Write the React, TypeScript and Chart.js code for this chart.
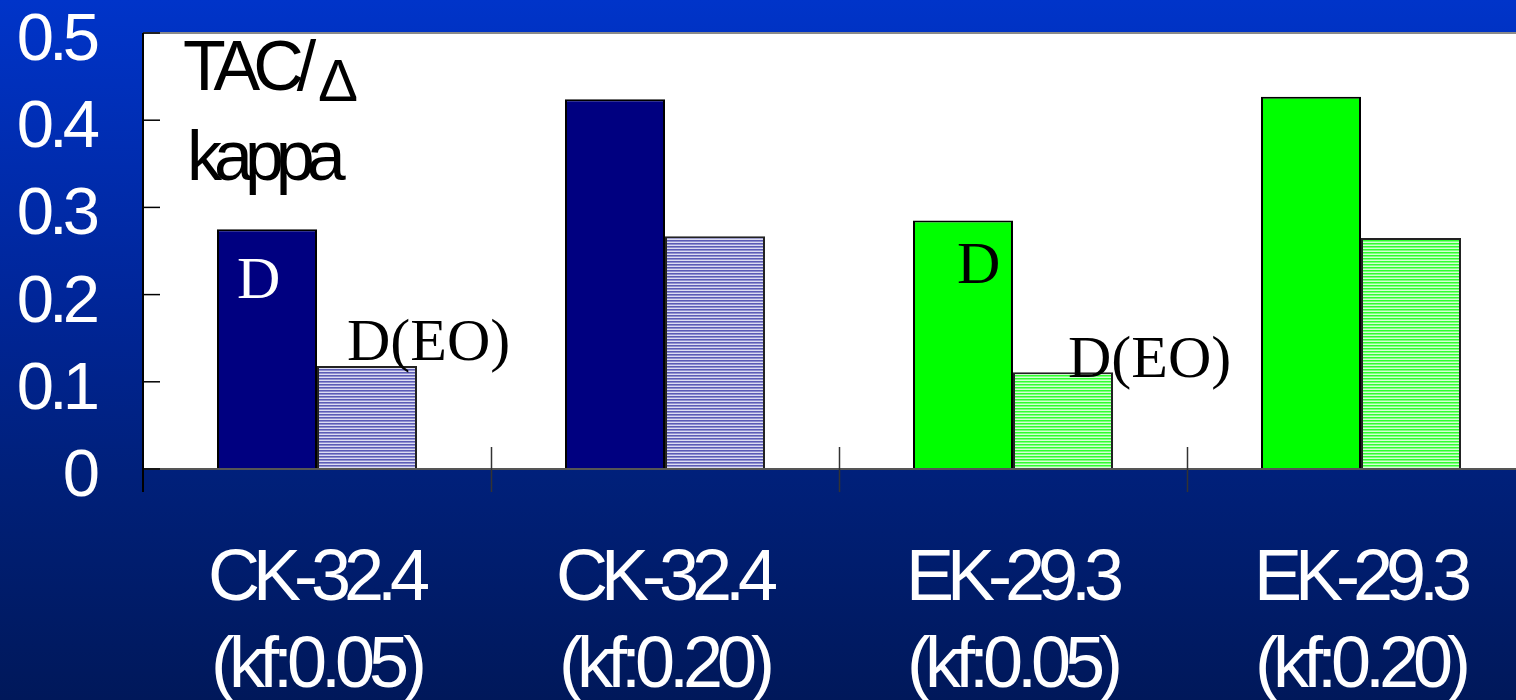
import React, { useEffect, useRef } from "react";
import { Chart, registerables } from "chart.js";
Chart.register(...registerables);

const categoryLine1 = ["CK-32.4", "CK-32.4", "EK-29.3", "EK-29.3"];
const categoryLine2 = ["(kf:0.05)", "(kf:0.20)", "(kf:0.05)", "(kf:0.20)"];
const seriesD = [0.275, 0.424, 0.285, 0.427];
const seriesDEO = [0.118, 0.267, 0.111, 0.265];
const yTickValues = [0, 0.1, 0.2, 0.3, 0.4, 0.5];
const yTickLabels = ["0", "0.1", "0.2", "0.3", "0.4", "0.5"];
const seriesNames = ["D", "D(EO)"];
// annotation labels: [text, category index, value (baseline), pixel x offset from category center (left edge), color]
const barNotes: [string, number, number, number, string][] = [
  ["D", 0, 0.196, -80, "#ffffff"],
  ["D(EO)", 0, 0.125, 30, "#000000"],
  ["D", 2, 0.213, -56, "#000000"],
  ["D(EO)", 2, 0.1055, 55, "#000000"],
];

function drawText(
  ctx: CanvasRenderingContext2D,
  s: string,
  x: number,
  y: number,
  font: string,
  color: string,
  spacing: number,
  align: "left" | "center" | "right"
) {
  ctx.save();
  ctx.font = font;
  ctx.fillStyle = color;
  (ctx as any).letterSpacing = spacing + "px";
  ctx.textAlign = "left";
  ctx.textBaseline = "alphabetic";
  const w = ctx.measureText(s).width - spacing;
  let sx = x;
  if (align === "center") sx = x - w / 2;
  else if (align === "right") sx = x - w;
  ctx.fillText(s, sx, y);
  ctx.restore();
}

export default function App() {
  const ref = useRef<HTMLCanvasElement>(null);
  useEffect(() => {
    const canvas = ref.current!;
    const mainCtx = canvas.getContext("2d")!;
    const mk = (rows: string[]) => {
      const c = document.createElement("canvas");
      c.width = 4;
      c.height = rows.length;
      const g = c.getContext("2d")!;
      rows.forEach((r, i) => {
        g.fillStyle = r;
        g.fillRect(0, i, 4, 1);
      });
      return mainCtx.createPattern(c, "repeat")!;
    };
    const navyPat = mk(["#5c5cb6", "#9090d0", "#dcdcf2"]);
    const greenPat = mk(["#30ff30", "#80ff80", "#d4ffd4"]);
    const navy = "#000080";
    const green = "#00ff00";

    const deco = {
      id: "deco",
      beforeDraw(chart: any) {
        const { ctx, chartArea: a } = chart;
        ctx.save();
        ctx.fillStyle = "#ffffff";
        ctx.fillRect(a.left, a.top, a.right - a.left, a.bottom - a.top);
        ctx.strokeStyle = "#8a8a8a";
        ctx.lineWidth = 2;
        ctx.beginPath();
        ctx.moveTo(a.left, a.top);
        ctx.lineTo(a.right, a.top);
        ctx.stroke();
        ctx.restore();
      },
      afterDatasetsDraw(chart: any) {
        const { ctx, chartArea: a } = chart;
        const xs = chart.scales.x;
        const ys = chart.scales.y;
        const zeroY = ys.getPixelForValue(0);
        ctx.save();
        // x axis line
        ctx.strokeStyle = "#555555";
        ctx.lineWidth = 2;
        ctx.beginPath();
        ctx.moveTo(a.left, zeroY);
        ctx.lineTo(a.right, zeroY);
        ctx.stroke();
        // y axis line
        ctx.strokeStyle = "#000000";
        ctx.beginPath();
        ctx.moveTo(a.left, a.top);
        ctx.lineTo(a.left, zeroY + 23);
        ctx.stroke();
        // y ticks (inside)
        ctx.lineWidth = 1.5;
        yTickValues.forEach((v) => {
          const py = ys.getPixelForValue(v);
          ctx.beginPath();
          ctx.moveTo(a.left, py);
          ctx.lineTo(a.left + 17, py);
          ctx.stroke();
        });
        // x ticks at category boundaries
        const n = categoryLine1.length;
        const cw = (a.right - a.left) / n;
        ctx.strokeStyle = "#333333";
        for (let i = 1; i <= n; i++) {
          const px = Math.round(a.left + i * cw) + 0.5;
          ctx.beginPath();
          ctx.moveTo(px, zeroY - 22);
          ctx.lineTo(px, zeroY + 23);
          ctx.stroke();
        }
        ctx.restore();

        // y tick labels
        yTickValues.forEach((v, i) => {
          const py = ys.getPixelForValue(v);
          drawText(ctx, yTickLabels[i], 100, py + 27, '67px "Liberation Sans"', "#ffffff", -5, "right");
        });
        // x labels
        categoryLine1.forEach((_, i) => {
          const px = xs.getPixelForValue(i) + 2;
          drawText(ctx, categoryLine1[i], px, zeroY + 131, '72px "Liberation Sans"', "#ffffff", -7, "center");
          drawText(ctx, categoryLine2[i], px, zeroY + 218, '72px "Liberation Sans"', "#ffffff", -6, "center");
        });
        // bar notes
        barNotes.forEach(([s, ci, v, dx, col]) => {
          const px = xs.getPixelForValue(ci) + dx;
          const py = ys.getPixelForValue(v);
          drawText(ctx, s, px, py, '60px "Liberation Serif"', col, 0, "left");
        });
        // axis caption
        drawText(ctx, "TAC/", a.left + 40, a.top + 57, '70px "Liberation Sans"', "#000000", -7, "left");
        drawText(ctx, "\u0394", a.left + 175, a.top + 68, '60px "Liberation Sans"', "#000000", 0, "left");
        drawText(ctx, "kappa", a.left + 44, a.top + 147, '70px "Liberation Sans"', "#000000", -8, "left");
      },
    };

    const chart = new Chart(canvas, {
      type: "bar",
      data: {
        labels: categoryLine1.map((c, i) => [c, categoryLine2[i]]),
        datasets: [
          {
            label: seriesNames[0],
            data: seriesD,
            backgroundColor: [navy, navy, green, green],
            borderColor: "#000000",
            borderWidth: 2,
          },
          {
            label: seriesNames[1],
            data: seriesDEO,
            backgroundColor: [navyPat, navyPat, greenPat, greenPat] as any,
            borderColor: "#222222",
            borderWidth: 2,
          },
        ],
      },
      options: {
        responsive: false,
        animation: false,
        devicePixelRatio: 1,
        layout: { padding: { left: 143, top: 33, right: 5, bottom: 231 } },
        datasets: { bar: { categoryPercentage: 200 / 348, barPercentage: 1 } },
        plugins: { legend: { display: false }, tooltip: { enabled: false } },
        scales: {
          x: { display: false },
          y: { display: false, min: 0, max: 0.5 },
        },
      } as any,
      plugins: [deco],
    });
    return () => chart.destroy();
  }, []);

  return (
    <div
      style={{
        position: "fixed",
        left: 0,
        top: 0,
        width: 1516,
        height: 700,
        overflow: "hidden",
        background: "linear-gradient(to bottom, #0034c9 0%, #002596 45%, #00207a 68%, #00185a 100%)",
      }}
    >
      <canvas ref={ref} width={1540} height={700} style={{ width: 1540, height: 700, display: "block" }} />
    </div>
  );
}
